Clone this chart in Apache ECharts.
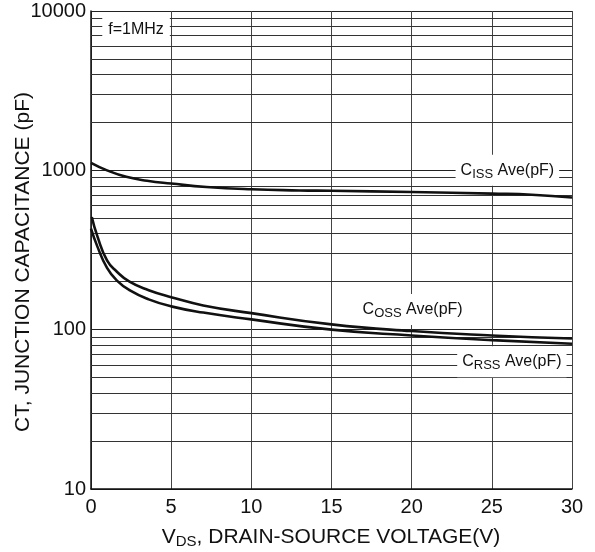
<!DOCTYPE html>
<html>
<head>
<meta charset="utf-8">
<script src="https://cdn.jsdelivr.net/npm/echarts@6/dist/echarts.min.js"></script>
<style>
html,body{margin:0;padding:0;background:#fff;}
#c{width:595px;height:552px;}
</style>
</head>
<body>
<div id="c"></div>
<script>
// ---- data ----
const vdsCiss = [0, 1, 2.2, 3.5, 5, 7.2, 10, 13, 15, 20, 25, 27.5, 30];
const ciss    = [1115, 1000, 910, 860, 826, 786, 760, 748, 744, 731, 714, 703, 676];
const vdsCoss = [0.05, 0.4, 1, 1.6, 2.4, 3.6, 5, 7, 10, 15, 20, 25, 30];
const coss    = [510, 385, 272, 232, 200, 177, 160, 142, 127, 108, 98, 92, 88];
const vdsCrss = [0, 0.4, 1, 1.6, 2.4, 3.6, 5, 7, 10, 15, 20, 25, 30];
const crss    = [430, 332, 244, 204, 177, 155, 140, 128, 116, 100, 92, 86, 81.5];
const xTicks  = [0, 5, 10, 15, 20, 25, 30];
const yTicks  = [10, 100, 1000, 10000];
const minorGrid = [20,30,40,50,60,70,80,90,200,300,400,500,600,700,800,900,2000,3000,4000,5000,6000,7000,8000,9000];

const zip = (xs, ys) => xs.map((x, i) => [x, ys[i]]);
const FONT = '"Liberation Sans", Arial, Helvetica, sans-serif';
const INK = '#111';
const subRich = {
  base: {fontSize: 16, fontFamily: FONT, color: INK},
  sub: {fontSize: 13, fontFamily: FONT, color: INK, padding: [8, 0, 0, 0]}
};
const boxLabel = {
  show: true, position: 'inside', backgroundColor: '#fff', padding: [5, 5, 5, 5],
  color: INK, fontSize: 16, fontFamily: FONT, rich: subRich
};
const curveStyle = {color: '#111', width: 2.6};

const chart = echarts.init(document.getElementById('c'), null, {renderer: 'canvas'});
chart.setOption({
  animation: false,
  backgroundColor: '#fff',
  grid: {left: 91, right: 23, top: 11, bottom: 63, containLabel: false},
  xAxis: {
    type: 'value', min: xTicks[0], max: xTicks[xTicks.length - 1], interval: 5,
    axisLine: {show: true, onZero: false, lineStyle: {color: '#111', width: 1.5}},
    axisTick: {show: false},
    axisLabel: {fontSize: 20, fontFamily: FONT, color: INK, margin: 8},
    splitLine: {show: true, lineStyle: {color: '#444', width: 1}}
  },
  yAxis: {
    type: 'log', logBase: 10, min: yTicks[0], max: yTicks[yTicks.length - 1],
    axisLine: {show: true, lineStyle: {color: '#111', width: 1.5}},
    axisTick: {show: false},
    axisLabel: {fontSize: 20, fontFamily: FONT, color: INK, margin: 5,
      formatter: v => String(Math.round(v))},
    splitLine: {show: true, lineStyle: {color: '#222', width: 1}}
  },
  graphic: [
    {type: 'text', x: 23, y: 262, rotation: Math.PI / 2,
     style: {text: 'CT, JUNCTION CAPACITANCE (pF)', fontSize: 21, fontFamily: FONT, fill: INK,
       align: 'center', verticalAlign: 'middle'}},
    {type: 'text', x: 331, y: 537,
     style: {text: '{b|V}{s|DS}{b|, DRAIN-SOURCE VOLTAGE(V)}', fontFamily: FONT, fill: INK,
       align: 'center', verticalAlign: 'middle',
       rich: {b: {fontSize: 21, fontFamily: FONT, fill: INK},
              s: {fontSize: 15, fontFamily: FONT, fill: INK, padding: [9, 0, 0, 0]}}}}
  ],
  series: [
    {
      name: 'Ciss', type: 'line', data: zip(vdsCiss, ciss), smooth: 0.5,
      showSymbol: false, symbol: 'none', z: 3,
      lineStyle: curveStyle,
      markLine: {
        silent: true, symbol: 'none', z: 1, animation: false,
        label: {show: false},
        lineStyle: {color: '#333', width: 1, type: 'solid'},
        data: minorGrid.map(v => ({yAxis: v}))
      },
      markPoint: {
        silent: true, z: 10, symbol: 'circle', symbolSize: 0, animation: false,
        label: boxLabel,
        data: [
          {coord: [25.97, 1000], label: {formatter: '{base|C}{sub|ISS}{base| Ave(pF)}'}},
          {coord: [20.06, 134], label: {formatter: '{base|C}{sub|OSS}{base| Ave(pF)}'}},
          {coord: [26.25, 63], label: {formatter: '{base|C}{sub|RSS}{base| Ave(pF)}'}},
          {coord: [2.81, 7590], label: {formatter: '{base|f=1MHz}', padding: [6, 6, 6, 6]}}
        ]
      }
    },
    {
      name: 'Coss', type: 'line', data: zip(vdsCoss, coss), smooth: 0.5,
      showSymbol: false, symbol: 'none', z: 3,
      lineStyle: curveStyle
    },
    {
      name: 'Crss', type: 'line', data: zip(vdsCrss, crss), smooth: 0.5,
      showSymbol: false, symbol: 'none', z: 3,
      lineStyle: curveStyle
    }
  ]
});
</script>
</body>
</html>
